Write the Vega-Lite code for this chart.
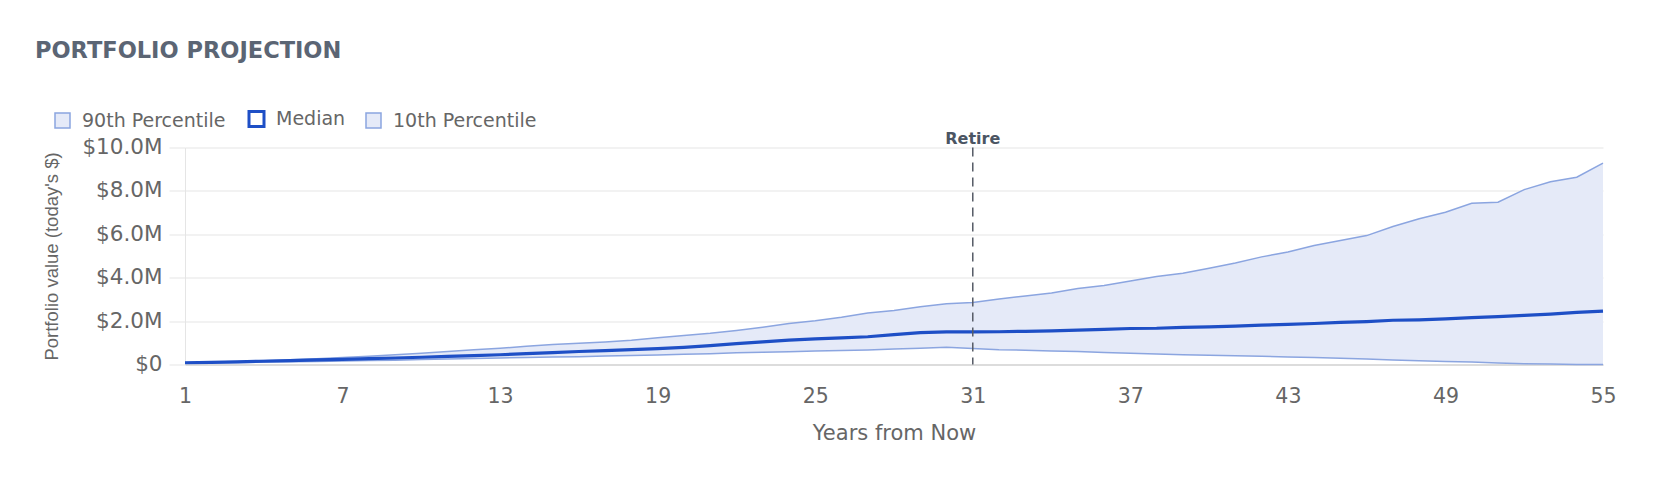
{
  "$schema": "https://vega.github.io/schema/vega-lite/v6.json",
  "width": 1418,
  "height": 217,
  "autosize": {"type": "none"},
  "padding": {"left": 185, "top": 147.5, "right": 53, "bottom": 123.5},
  "background": "#ffffff",
  "title": {
    "text": "PORTFOLIO PROJECTION",
    "anchor": "start",
    "frame": "group",
    "dx": -150,
    "dy": -43,
    "font": "DejaVu Sans",
    "fontSize": 22.5,
    "fontWeight": "bold",
    "color": "#5b6574"
  },
  "datasets": {
    "projection": [
      {"year": 1, "p10": 70000, "median": 80000, "p90": 90000},
      {"year": 2, "p10": 80000, "median": 100000, "p90": 110000},
      {"year": 3, "p10": 95000, "median": 125000, "p90": 140000},
      {"year": 4, "p10": 110000, "median": 150000, "p90": 180000},
      {"year": 5, "p10": 125000, "median": 180000, "p90": 220000},
      {"year": 6, "p10": 140000, "median": 210000, "p90": 270000},
      {"year": 7, "p10": 160000, "median": 240000, "p90": 320000},
      {"year": 8, "p10": 180000, "median": 270000, "p90": 380000},
      {"year": 9, "p10": 200000, "median": 300000, "p90": 450000},
      {"year": 10, "p10": 225000, "median": 335000, "p90": 520000},
      {"year": 11, "p10": 250000, "median": 370000, "p90": 600000},
      {"year": 12, "p10": 275000, "median": 410000, "p90": 680000},
      {"year": 13, "p10": 300000, "median": 450000, "p90": 750000},
      {"year": 14, "p10": 320000, "median": 500000, "p90": 840000},
      {"year": 15, "p10": 340000, "median": 550000, "p90": 920000},
      {"year": 16, "p10": 360000, "median": 600000, "p90": 980000},
      {"year": 17, "p10": 390000, "median": 640000, "p90": 1040000},
      {"year": 18, "p10": 410000, "median": 690000, "p90": 1120000},
      {"year": 19, "p10": 440000, "median": 730000, "p90": 1230000},
      {"year": 20, "p10": 470000, "median": 790000, "p90": 1340000},
      {"year": 21, "p10": 500000, "median": 870000, "p90": 1440000},
      {"year": 22, "p10": 540000, "median": 960000, "p90": 1570000},
      {"year": 23, "p10": 560000, "median": 1040000, "p90": 1720000},
      {"year": 24, "p10": 590000, "median": 1120000, "p90": 1890000},
      {"year": 25, "p10": 620000, "median": 1180000, "p90": 2020000},
      {"year": 26, "p10": 640000, "median": 1230000, "p90": 2180000},
      {"year": 27, "p10": 670000, "median": 1280000, "p90": 2370000},
      {"year": 28, "p10": 710000, "median": 1380000, "p90": 2490000},
      {"year": 29, "p10": 750000, "median": 1470000, "p90": 2660000},
      {"year": 30, "p10": 800000, "median": 1500000, "p90": 2800000},
      {"year": 31, "p10": 740000, "median": 1500000, "p90": 2860000},
      {"year": 32, "p10": 680000, "median": 1510000, "p90": 3020000},
      {"year": 33, "p10": 660000, "median": 1530000, "p90": 3160000},
      {"year": 34, "p10": 620000, "median": 1550000, "p90": 3300000},
      {"year": 35, "p10": 600000, "median": 1580000, "p90": 3500000},
      {"year": 36, "p10": 550000, "median": 1620000, "p90": 3640000},
      {"year": 37, "p10": 520000, "median": 1660000, "p90": 3850000},
      {"year": 38, "p10": 480000, "median": 1670000, "p90": 4050000},
      {"year": 39, "p10": 450000, "median": 1710000, "p90": 4210000},
      {"year": 40, "p10": 430000, "median": 1730000, "p90": 4440000},
      {"year": 41, "p10": 400000, "median": 1770000, "p90": 4680000},
      {"year": 42, "p10": 380000, "median": 1810000, "p90": 4960000},
      {"year": 43, "p10": 350000, "median": 1850000, "p90": 5180000},
      {"year": 44, "p10": 320000, "median": 1890000, "p90": 5480000},
      {"year": 45, "p10": 290000, "median": 1940000, "p90": 5710000},
      {"year": 46, "p10": 250000, "median": 1980000, "p90": 5940000},
      {"year": 47, "p10": 210000, "median": 2040000, "p90": 6360000},
      {"year": 48, "p10": 170000, "median": 2060000, "p90": 6720000},
      {"year": 49, "p10": 140000, "median": 2100000, "p90": 7020000},
      {"year": 50, "p10": 110000, "median": 2160000, "p90": 7430000},
      {"year": 51, "p10": 70000, "median": 2210000, "p90": 7480000},
      {"year": 52, "p10": 40000, "median": 2260000, "p90": 8060000},
      {"year": 53, "p10": 20000, "median": 2320000, "p90": 8420000},
      {"year": 54, "p10": 0, "median": 2400000, "p90": 8630000},
      {"year": 55, "p10": 0, "median": 2460000, "p90": 9280000}
    ],
    "events": [
      {"year": 31, "label": "Retire", "top": 10000000}
    ]
  },
  "layer": [
    {
      "data": {"name": "projection"},
      "mark": {"type": "area", "color": "#e5eaf8", "opacity": 1},
      "encoding": {
        "x": {
          "field": "year",
          "type": "quantitative",
          "scale": {"domain": [1, 55], "nice": false, "zero": false},
          "axis": {
            "title": "Years from Now",
            "values": [1, 7, 13, 19, 25, 31, 37, 43, 49, 55],
            "grid": false,
            "ticks": false,
            "tickSize": 0,
            "labelFlush": false,
            "labelOverlap": false,
            "domainColor": "#d4d4d4",
            "domainWidth": 1.5,
            "labelPadding": 21.5,
            "labelFontSize": 20.5,
            "labelColor": "#666666",
            "titleFontSize": 21,
            "titleFontWeight": "normal",
            "titleColor": "#666666",
            "titlePadding": 16
          }
        },
        "y": {
          "field": "p90",
          "type": "quantitative",
          "scale": {"domain": [0, 10000000], "nice": false},
          "axis": {
            "title": "Portfolio value (today's $)",
            "values": [0, 2000000, 4000000, 6000000, 8000000, 10000000],
            "labelExpr": "datum.value === 0 ? '$0' : '$' + format(datum.value / 1000000, '.1f') + 'M'",
            "grid": true,
            "gridColor": "#e5e5e5",
            "tickColor": "#e5e5e5",
            "tickSize": 16,
            "labelPadding": 7,
            "domainColor": "#e5e5e5",
            "labelFontSize": 21.5,
            "labelColor": "#666666",
            "titleFont": "Liberation Sans",
            "titleFontSize": 18.5,
            "titleFontWeight": "normal",
            "titleColor": "#666666",
            "titlePadding": 20
          }
        },
        "y2": {"field": "p10"}
      }
    },
    {
      "data": {"name": "projection"},
      "transform": [{"fold": ["p90", "p10"], "as": ["series", "value"]}],
      "mark": {"type": "line", "strokeWidth": 1.5, "interpolate": "linear"},
      "encoding": {
        "x": {"field": "year", "type": "quantitative"},
        "y": {"field": "value", "type": "quantitative"},
        "detail": {"field": "series"},
        "color": {
          "field": "series",
          "type": "nominal",
          "scale": {"domain": ["p90", "median", "p10"], "range": ["#8ba5e0", "#1e4fc6", "#8ba5e0"]},
          "legend": {
            "orient": "none",
            "legendX": -132,
            "legendY": -38,
            "direction": "horizontal",
            "title": null,
            "padding": 0,
            "symbolType": "square",
            "symbolSize": 225,
            "labelFont": "DejaVu Sans",
            "labelFontSize": 19,
            "labelColor": "#666666",
            "columnPadding": 17,
            "labelOffset": 10,
            "labelExpr": "datum.value === 'p90' ? '90th Percentile' : datum.value === 'median' ? 'Median' : '10th Percentile'",
            "encode": {
              "symbols": {
                "update": {
                  "fill": {"signal": "datum.value === 'median' ? '#ffffff' : '#e5eaf8'"},
                  "stroke": {"signal": "datum.value === 'median' ? '#1e4fc6' : '#8ba5e0'"},
                  "strokeWidth": {"signal": "datum.value === 'median' ? 3 : 1.5"},
                  "opacity": {"value": 1}
                }
              }
            }
          }
        }
      }
    },
    {
      "data": {"name": "projection"},
      "transform": [{"fold": ["median"], "as": ["series", "value"]}],
      "mark": {"type": "line", "strokeWidth": 3.2, "interpolate": "linear"},
      "encoding": {
        "x": {"field": "year", "type": "quantitative"},
        "y": {"field": "value", "type": "quantitative"},
        "color": {"field": "series", "type": "nominal"}
      }
    },
    {
      "data": {"name": "events"},
      "mark": {"type": "rule", "color": "#555b66", "strokeWidth": 1.5, "strokeDash": [9, 6]},
      "encoding": {
        "x": {"field": "year", "type": "quantitative"}
      }
    },
    {
      "data": {"name": "events"},
      "mark": {"type": "text", "font": "DejaVu Sans", "fontSize": 16, "fontWeight": "bold", "color": "#4b5563", "baseline": "middle", "dy": -8.5},
      "encoding": {
        "x": {"field": "year", "type": "quantitative"},
        "y": {"field": "top", "type": "quantitative"},
        "text": {"field": "label"}
      }
    }
  ],
  "config": {
    "font": "DejaVu Sans",
    "view": {"stroke": null}
  }
}
